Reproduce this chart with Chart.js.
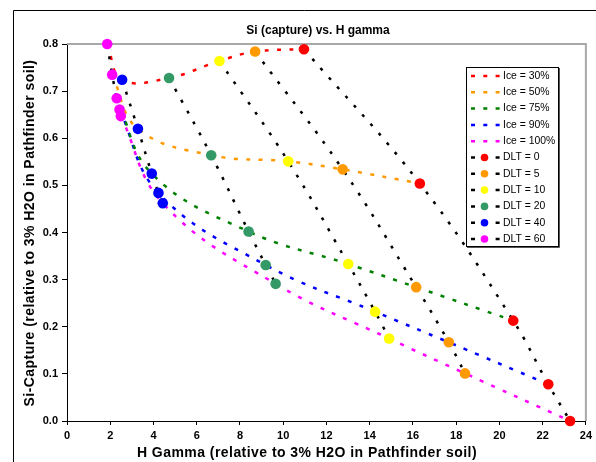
<!DOCTYPE html>
<html>
<head>
<meta charset="utf-8">
<script src="https://cdn.jsdelivr.net/npm/chart.js@4.4.0/dist/chart.umd.min.js"></script>
<style>
  html, body { margin: 0; padding: 0; background: #fff; }
  #wrap { width: 596px; height: 462px; }
</style>
</head>
<body>
<div id="wrap"><canvas id="siChart" width="596" height="462"></canvas></div>
<script>
// each DLT array is ordered Ice = 30, 50, 75, 90, 100 %
const iceLabels = ["Ice = 30%", "Ice = 50%", "Ice = 75%", "Ice = 90%", "Ice = 100%"];
const iceColors = ["#ff0000", "#ff9900", "#008000", "#0000ff", "#ff00ff"];
const dltLabels = ["DLT = 0", "DLT = 5", "DLT = 10", "DLT = 20", "DLT = 40", "DLT = 60"];
const dltColors = ["#ff0000", "#ff9900", "#ffff00", "#339966", "#0000ff", "#ff00ff"];

// H gamma (x) / Si capture (y)
const dlt0X = [10.96, 16.32, 20.64, 22.26, 23.27];
const dlt0Y = [0.789, 0.504, 0.213, 0.078, 0.0];
const dlt5X = [8.70, 12.75, 16.15, 17.66, 18.41];
const dlt5Y = [0.784, 0.534, 0.284, 0.167, 0.101];
const dlt10X = [7.05, 10.23, 13.01, 14.25, 14.90];
const dlt10Y = [0.764, 0.551, 0.333, 0.232, 0.175];
const dlt20X = [4.72, 6.67, 8.40, 9.19, 9.65];
const dlt20Y = [0.728, 0.564, 0.402, 0.331, 0.291];
const dlt40X = [2.55, 3.28, 3.92, 4.23, 4.43];
const dlt40Y = [0.724, 0.620, 0.525, 0.484, 0.462];
const dlt60X = [1.86, 2.09, 2.30, 2.43, 2.49];
const dlt60Y = [0.800, 0.735, 0.685, 0.661, 0.647];

const xTicksStep = 2;
const yTicksStep = 0.1;

const dltX = [dlt0X, dlt5X, dlt10X, dlt20X, dlt40X, dlt60X];
const dltY = [dlt0Y, dlt5Y, dlt10Y, dlt20Y, dlt40Y, dlt60Y];

const FONT = "'Liberation Sans', Arial, sans-serif";
Chart.defaults.font.family = FONT;
Chart.defaults.color = "#000";

let datasets = [];

// ice curves: go from DLT 60 down to DLT 0
iceLabels.forEach((lab, i) => {
  let pts = [];
  for (let d = dltX.length - 1; d >= 0; d--) {
    pts.push({ x: dltX[d][i], y: dltY[d][i] });
  }
  datasets.push({
    label: lab,
    data: pts,
    showLine: true,
    borderColor: iceColors[i],
    borderWidth: 2.5,
    borderDash: [4, 8.5],
    pointRadius: 0,
    tension: 0.4,
    clip: false,
    order: 2,
  });
});

// DLT curves: black dotted with coloured markers
dltLabels.forEach((lab, d) => {
  let pts = dltX[d].map((x, i) => ({ x: x, y: dltY[d][i] }));
  datasets.push({
    label: lab,
    data: pts,
    showLine: true,
    borderColor: "#000",
    borderWidth: 2.5,
    borderDash: [3, 9.5],
    pointRadius: 5.3,
    pointBackgroundColor: dltColors[d],
    pointBorderColor: dltColors[d],
    pointBorderWidth: 0,
    tension: 0.4,
    clip: false,
    order: 1,
  });
});

const framePlugin = {
  id: "frame",
  beforeDraw(chart) {
    const ctx = chart.ctx;
    ctx.save();
    ctx.fillStyle = "#fff";
    ctx.fillRect(0, 0, chart.width, chart.height);
    ctx.strokeStyle = "#000";
    ctx.lineWidth = 1;
    ctx.beginPath();
    ctx.moveTo(13.5, chart.height);
    ctx.lineTo(13.5, 10.5);
    ctx.lineTo(chart.width, 10.5);
    ctx.stroke();
    ctx.restore();
  },
  beforeDatasetsDraw(chart) {
    const ctx = chart.ctx;
    const a = chart.chartArea;
    ctx.save();
    ctx.strokeStyle = "#a8a8a8";
    ctx.lineWidth = 2;
    ctx.beginPath();
    ctx.moveTo(a.left, a.top);
    ctx.lineTo(a.right, a.top);
    ctx.lineTo(a.right, a.bottom);
    ctx.stroke();
    ctx.restore();
  },
  afterDraw(chart) {
    const ctx = chart.ctx;
    ctx.save();
    ctx.fillStyle = "#000";
    ctx.textAlign = "center";
    ctx.textBaseline = "middle";
    ctx.font = "bold 12px " + FONT;
    ctx.fillText("Si (capture) vs. H gamma", 318, 31);
    // axis titles are a bit bigger and looser in the original
    ctx.font = "bold 14px " + FONT;
    ctx.letterSpacing = "0.45px";
    ctx.fillText("H Gamma (relative to 3% H2O in Pathfinder soil)", 307, 453);
    ctx.save();
    ctx.translate(30, 233);
    ctx.rotate(-Math.PI / 2);
    ctx.fillText("Si-Capture (relative to 3% H2O in Pathfinder soil)", 0, 0);
    ctx.restore();
    ctx.letterSpacing = "0px";

    // legend box
    const bx = 466, by = 67, bw = 92, bh = 179;
    ctx.fillStyle = "#fff";
    ctx.fillRect(bx, by, bw, bh);
    ctx.strokeStyle = "#555";
    ctx.lineWidth = 1;
    ctx.beginPath();
    ctx.moveTo(bx + bw + 1.5, by + 1);
    ctx.lineTo(bx + bw + 1.5, by + bh + 1.5);
    ctx.lineTo(bx + 1, by + bh + 1.5);
    ctx.stroke();
    ctx.strokeStyle = "#000";
    ctx.strokeRect(bx + 0.5, by + 0.5, bw, bh);

    ctx.textAlign = "left";
    ctx.font = "10.4px " + FONT;
    chart.data.datasets.forEach((ds, i) => {
      const y = 76 + i * 16.3;
      ctx.save();
      ctx.strokeStyle = ds.borderColor;
      ctx.lineWidth = 2.5;
      ctx.setLineDash([4, 8.3]);
      ctx.beginPath();
      ctx.moveTo(471, y);
      ctx.lineTo(501, y);
      ctx.stroke();
      ctx.restore();
      if (ds.pointRadius > 0) {
        ctx.fillStyle = "#fff";
        ctx.fillRect(479, y - 5, 11, 10);
        ctx.fillStyle = ds.pointBackgroundColor;
        ctx.beginPath();
        ctx.arc(484.5, y, 3.8, 0, Math.PI * 2);
        ctx.fill();
      }
      ctx.fillStyle = "#000";
      ctx.fillText(ds.label, 503, y);
    });
    ctx.restore();
  },
};

new Chart(document.getElementById("siChart").getContext("2d"), {
  type: "scatter",
  data: { datasets: datasets },
  options: {
    responsive: false,
    animation: false,
    layout: { padding: { top: 44, right: 5, left: 0, bottom: 0 } },
    plugins: {
      legend: { display: false },
      title: { display: false },
      tooltip: { enabled: false },
    },
    scales: {
      x: {
        type: "linear",
        min: 0,
        max: 24,
        ticks: {
          stepSize: xTicksStep,
          maxRotation: 0,
          padding: 4,
          font: { size: 11, weight: "bold" },
        },
        grid: { drawOnChartArea: false, drawTicks: true, tickLength: 4, color: "#000" },
        border: { color: "#000", width: 1 },
        afterFit: (s) => { s.height = 41; },
      },
      y: {
        min: 0,
        max: 0.8,
        ticks: {
          stepSize: yTicksStep,
          padding: 4,
          font: { size: 11, weight: "bold" },
          callback: (v) => v.toFixed(1),
        },
        grid: { drawOnChartArea: false, drawTicks: true, tickLength: 5, color: "#000" },
        border: { color: "#000", width: 1 },
        afterFit: (s) => { s.width = 67; },
      },
    },
  },
  plugins: [framePlugin],
});
</script>
</body>
</html>
